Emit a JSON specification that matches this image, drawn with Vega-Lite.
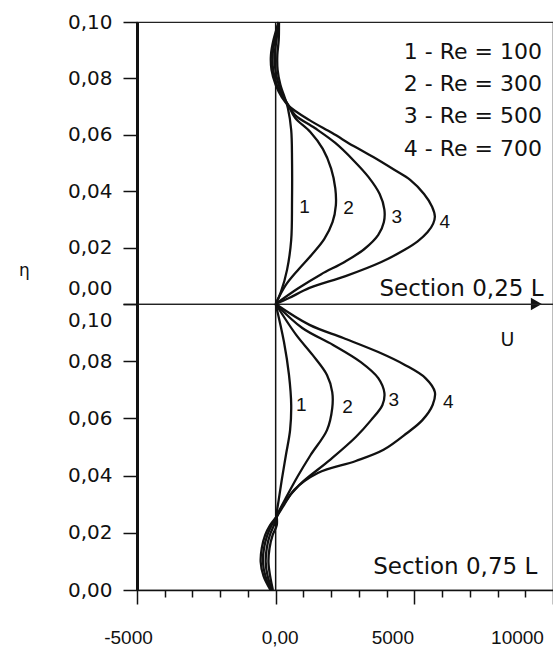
{
  "$schema": "https://vega.github.io/schema/vega-lite/v6.json",
  "autosize": {"type": "pad"},
  "padding": {"left": 18, "top": 11, "right": 0, "bottom": 5},
  "background": "white",
  "spacing": 0,
  "bounds": "flush",
  "config": {
    "font": "Liberation Sans",
    "view": {"stroke": "#222", "strokeWidth": 1.2},
    "axis": {"grid": false, "labelFont": "Liberation Sans", "labelFontSize": 19, "labelColor": "#111", "tickColor": "#111", "domainColor": "#111", "labelFlush": false},
    "text": {"font": "DejaVu Sans", "color": "#111"}
  },
  "datasets": {
    "topCurves": [
      {"curve": "1", "U": 120, "eta": 0.1}, {"curve": "1", "U": 110, "eta": 0.0936}, {"curve": "1", "U": 60, "eta": 0.0883}, {"curve": "1", "U": 70, "eta": 0.083}, {"curve": "1", "U": 170, "eta": 0.0777}, {"curve": "1", "U": 320, "eta": 0.0734}, {"curve": "1", "U": 440, "eta": 0.0695}, {"curve": "1", "U": 560, "eta": 0.0617}, {"curve": "1", "U": 590, "eta": 0.0511}, {"curve": "1", "U": 590, "eta": 0.0369}, {"curve": "1", "U": 560, "eta": 0.0227}, {"curve": "1", "U": 410, "eta": 0.0121}, {"curve": "1", "U": 190, "eta": 0.0043}, {"curve": "1", "U": 0, "eta": 0},
      {"curve": "2", "U": 100, "eta": 0.1}, {"curve": "2", "U": 30, "eta": 0.0936}, {"curve": "2", "U": -40, "eta": 0.0883}, {"curve": "2", "U": -10, "eta": 0.083}, {"curve": "2", "U": 110, "eta": 0.0777}, {"curve": "2", "U": 290, "eta": 0.0734}, {"curve": "2", "U": 480, "eta": 0.07}, {"curve": "2", "U": 700, "eta": 0.066}, {"curve": "2", "U": 1250, "eta": 0.061}, {"curve": "2", "U": 1700, "eta": 0.055}, {"curve": "2", "U": 2000, "eta": 0.048}, {"curve": "2", "U": 2150, "eta": 0.041}, {"curve": "2", "U": 2170, "eta": 0.035}, {"curve": "2", "U": 2050, "eta": 0.029}, {"curve": "2", "U": 1750, "eta": 0.023}, {"curve": "2", "U": 1300, "eta": 0.0175}, {"curve": "2", "U": 800, "eta": 0.012}, {"curve": "2", "U": 350, "eta": 0.0065}, {"curve": "2", "U": 0, "eta": 0},
      {"curve": "3", "U": 110, "eta": 0.1}, {"curve": "3", "U": -30, "eta": 0.0936}, {"curve": "3", "U": -110, "eta": 0.0883}, {"curve": "3", "U": -90, "eta": 0.083}, {"curve": "3", "U": 40, "eta": 0.0777}, {"curve": "3", "U": 250, "eta": 0.0734}, {"curve": "3", "U": 480, "eta": 0.0702}, {"curve": "3", "U": 700, "eta": 0.067}, {"curve": "3", "U": 1410, "eta": 0.0624}, {"curve": "3", "U": 2150, "eta": 0.0571}, {"curve": "3", "U": 2800, "eta": 0.051}, {"curve": "3", "U": 3350, "eta": 0.045}, {"curve": "3", "U": 3750, "eta": 0.039}, {"curve": "3", "U": 3920, "eta": 0.0335}, {"curve": "3", "U": 3900, "eta": 0.029}, {"curve": "3", "U": 3700, "eta": 0.0245}, {"curve": "3", "U": 3200, "eta": 0.0195}, {"curve": "3", "U": 2500, "eta": 0.015}, {"curve": "3", "U": 1630, "eta": 0.0105}, {"curve": "3", "U": 800, "eta": 0.0055}, {"curve": "3", "U": 0, "eta": 0},
      {"curve": "4", "U": 110, "eta": 0.1}, {"curve": "4", "U": -80, "eta": 0.0936}, {"curve": "4", "U": -170, "eta": 0.0883}, {"curve": "4", "U": -150, "eta": 0.083}, {"curve": "4", "U": 0, "eta": 0.0777}, {"curve": "4", "U": 220, "eta": 0.0734}, {"curve": "4", "U": 480, "eta": 0.0702}, {"curve": "4", "U": 1220, "eta": 0.0652}, {"curve": "4", "U": 2040, "eta": 0.0606}, {"curve": "4", "U": 2810, "eta": 0.056}, {"curve": "4", "U": 3520, "eta": 0.0521}, {"curve": "4", "U": 4290, "eta": 0.0475}, {"curve": "4", "U": 4850, "eta": 0.044}, {"curve": "4", "U": 5350, "eta": 0.039}, {"curve": "4", "U": 5640, "eta": 0.0345}, {"curve": "4", "U": 5740, "eta": 0.031}, {"curve": "4", "U": 5680, "eta": 0.0285}, {"curve": "4", "U": 5480, "eta": 0.0255}, {"curve": "4", "U": 5120, "eta": 0.0222}, {"curve": "4", "U": 4650, "eta": 0.0192}, {"curve": "4", "U": 3810, "eta": 0.0149}, {"curve": "4", "U": 2520, "eta": 0.0099}, {"curve": "4", "U": 1220, "eta": 0.0057}, {"curve": "4", "U": 480, "eta": 0.0021}, {"curve": "4", "U": 0, "eta": 0}
    ],
    "bottomCurves": [
      {"curve": "1", "U": 0, "eta": 0.1}, {"curve": "1", "U": 300, "eta": 0.0867}, {"curve": "1", "U": 480, "eta": 0.0752}, {"curve": "1", "U": 560, "eta": 0.0647}, {"curve": "1", "U": 520, "eta": 0.0559}, {"curve": "1", "U": 370, "eta": 0.0472}, {"curve": "1", "U": 220, "eta": 0.0385}, {"curve": "1", "U": 110, "eta": 0.0315}, {"curve": "1", "U": 40, "eta": 0.0269}, {"curve": "1", "U": 40, "eta": 0.0227}, {"curve": "1", "U": -110, "eta": 0.0192}, {"curve": "1", "U": -220, "eta": 0.0147}, {"curve": "1", "U": -260, "eta": 0.0098}, {"curve": "1", "U": -200, "eta": 0.0049}, {"curve": "1", "U": -100, "eta": 0},
      {"curve": "2", "U": 0, "eta": 0.1}, {"curve": "2", "U": 740, "eta": 0.0892}, {"curve": "2", "U": 1330, "eta": 0.0822}, {"curve": "2", "U": 1850, "eta": 0.0752}, {"curve": "2", "U": 2040, "eta": 0.0692}, {"curve": "2", "U": 2040, "eta": 0.0636}, {"curve": "2", "U": 1850, "eta": 0.0559}, {"curve": "2", "U": 1260, "eta": 0.0472}, {"curve": "2", "U": 780, "eta": 0.0395}, {"curve": "2", "U": 370, "eta": 0.0322}, {"curve": "2", "U": 110, "eta": 0.0273}, {"curve": "2", "U": -60, "eta": 0.0227}, {"curve": "2", "U": -210, "eta": 0.0192}, {"curve": "2", "U": -320, "eta": 0.0147}, {"curve": "2", "U": -360, "eta": 0.0098}, {"curve": "2", "U": -290, "eta": 0.0049}, {"curve": "2", "U": -130, "eta": 0},
      {"curve": "3", "U": 0, "eta": 0.1}, {"curve": "3", "U": 960, "eta": 0.0916}, {"curve": "3", "U": 2070, "eta": 0.0857}, {"curve": "3", "U": 3070, "eta": 0.0797}, {"curve": "3", "U": 3700, "eta": 0.0741}, {"curve": "3", "U": 3920, "eta": 0.0689}, {"curve": "3", "U": 3850, "eta": 0.0647}, {"curve": "3", "U": 3440, "eta": 0.0594}, {"curve": "3", "U": 2890, "eta": 0.0535}, {"curve": "3", "U": 1960, "eta": 0.0455}, {"curve": "3", "U": 850, "eta": 0.0367}, {"curve": "3", "U": 260, "eta": 0.0297}, {"curve": "3", "U": 70, "eta": 0.0262}, {"curve": "3", "U": -140, "eta": 0.0227}, {"curve": "3", "U": -300, "eta": 0.0192}, {"curve": "3", "U": -420, "eta": 0.0147}, {"curve": "3", "U": -460, "eta": 0.0098}, {"curve": "3", "U": -370, "eta": 0.0049}, {"curve": "3", "U": -160, "eta": 0},
      {"curve": "4", "U": 0, "eta": 0.1}, {"curve": "4", "U": 1220, "eta": 0.0927}, {"curve": "4", "U": 2440, "eta": 0.0881}, {"curve": "4", "U": 3700, "eta": 0.0832}, {"curve": "4", "U": 4660, "eta": 0.0787}, {"curve": "4", "U": 5400, "eta": 0.0741}, {"curve": "4", "U": 5740, "eta": 0.0692}, {"curve": "4", "U": 5660, "eta": 0.0647}, {"curve": "4", "U": 5290, "eta": 0.0594}, {"curve": "4", "U": 4740, "eta": 0.0549}, {"curve": "4", "U": 3890, "eta": 0.049}, {"curve": "4", "U": 2890, "eta": 0.0451}, {"curve": "4", "U": 1520, "eta": 0.0409}, {"curve": "4", "U": 670, "eta": 0.035}, {"curve": "4", "U": 300, "eta": 0.0297}, {"curve": "4", "U": 70, "eta": 0.0262}, {"curve": "4", "U": -200, "eta": 0.0227}, {"curve": "4", "U": -380, "eta": 0.0192}, {"curve": "4", "U": -500, "eta": 0.0147}, {"curve": "4", "U": -540, "eta": 0.0098}, {"curve": "4", "U": -440, "eta": 0.0049}, {"curve": "4", "U": -190, "eta": 0}
    ],
    "zeroLine": [{"U": 0, "eta": 0, "eta2": 0.1}],
    "topNumbers": [
      {"label": "1", "U": 1040, "eta": 0.0344}, {"label": "2", "U": 2630, "eta": 0.034}, {"label": "3", "U": 4370, "eta": 0.0309}, {"label": "4", "U": 6100, "eta": 0.029}
    ],
    "bottomNumbers": [
      {"label": "1", "U": 925, "eta": 0.0647}, {"label": "2", "U": 2590, "eta": 0.064}, {"label": "3", "U": 4260, "eta": 0.0664}, {"label": "4", "U": 6220, "eta": 0.0657}
    ],
    "legendText": [
      {"label": "1 - Re = 100", "U": 9600, "eta": 0.0895},
      {"label": "2 - Re = 300", "U": 9600, "eta": 0.078},
      {"label": "3 - Re = 500", "U": 9600, "eta": 0.0665},
      {"label": "4 - Re = 700", "U": 9600, "eta": 0.055}
    ],
    "sectionTop": [{"label": "Section 0,25 L", "U": 9660, "eta": 0.0052}],
    "arrow": [{"U": 9400, "eta": 0}],
    "bottomText": [
      {"label": "Section 0,75 L", "U": 9435, "eta": 0.0082}
    ],
    "uLabel": [{"label": "U", "U": 8360, "eta": 0.0874}]
  },
  "vconcat": [
    {
      "width": 416,
      "height": 282,
      "encoding": {
        "x": {"field": "U", "type": "quantitative", "scale": {"domain": [-5000, 10000], "nice": false, "zero": false}, "axis": null},
        "y": {"field": "eta", "type": "quantitative", "scale": {"domain": [0, 0.1], "nice": false},
          "axis": {
            "values": [0, 0.02, 0.04, 0.06, 0.08, 0.1],
            "labelExpr": "replace(format(datum.value, '.2f'), '.', ',')",
            "labelFont": "DejaVu Sans", "labelFontSize": 20,
            "tickSize": 14, "tickWidth": 1.5, "labelPadding": 11, "domainWidth": 3,
            "labelOffset": {"condition": {"test": "datum.value == 0", "value": -16}, "value": 0},
            "title": "η", "titleFont": "DejaVu Sans", "titleAngle": 0, "titleX": -113, "titleY": 248, "titleFontSize": 17, "titleFontWeight": "normal", "titleAlign": "center", "titleBaseline": "middle", "titleColor": "#111"
          }
        }
      },
      "layer": [
        {"data": {"name": "zeroLine"}, "mark": {"type": "rule", "strokeWidth": 1.5, "color": "#111"}, "encoding": {"y2": {"field": "eta2"}}},
        {"data": {"name": "topCurves"}, "mark": {"type": "line", "strokeWidth": 2.3, "color": "#111", "interpolate": "catmull-rom"},
          "encoding": {"detail": {"field": "curve"}, "order": {"field": "eta", "type": "quantitative"}}},
        {"data": {"name": "topNumbers"}, "mark": {"type": "text", "font": "Liberation Sans", "fontSize": 19, "align": "center", "baseline": "middle"}, "encoding": {"text": {"field": "label"}}},
        {"data": {"name": "legendText"}, "mark": {"type": "text", "fontSize": 22, "align": "right", "baseline": "middle"}, "encoding": {"text": {"field": "label"}}},
        {"data": {"name": "sectionTop"}, "mark": {"type": "text", "fontSize": 23, "align": "right", "baseline": "middle"}, "encoding": {"text": {"field": "label"}}},
        {"data": {"name": "arrow"}, "mark": {"type": "point", "shape": "triangle-right", "filled": true, "size": 160, "color": "#111", "opacity": 1}}
      ]
    },
    {
      "width": 416,
      "height": 286,
      "encoding": {
        "y": {"field": "eta", "type": "quantitative", "scale": {"domain": [0, 0.1], "nice": false},
          "axis": {
            "values": [0, 0.02, 0.04, 0.06, 0.08, 0.1],
            "labelExpr": "replace(format(datum.value, '.2f'), '.', ',')",
            "labelFont": "DejaVu Sans", "labelFontSize": 20,
            "tickSize": 14, "tickWidth": 1.5, "labelPadding": 11, "domainWidth": 3,
            "labelOffset": {"condition": {"test": "datum.value == 0.1", "value": 16}, "value": 0},
            "title": null
          }
        }
      },
      "resolve": {"axis": {"x": "independent"}},
      "layer": [
        {"data": {"name": "zeroLine"}, "mark": {"type": "rule", "strokeWidth": 1.5, "color": "#111"},
          "encoding": {
            "x": {"field": "U", "type": "quantitative", "scale": {"domain": [-5000, 10000], "nice": false, "zero": false},
              "axis": {"orient": "bottom", "values": [-4000, -3000, -2000, -1000, 1000, 2000, 3000, 4000, 6000, 7000, 8000, 9000], "labels": false, "domain": false, "tickSize": 7, "tickWidth": 1.5, "title": null}},
            "y2": {"field": "eta2"}
          }},
        {"data": {"name": "bottomCurves"}, "mark": {"type": "line", "strokeWidth": 2.3, "color": "#111", "interpolate": "catmull-rom"},
          "encoding": {
            "x": {"field": "U", "type": "quantitative", "scale": {"domain": [-5000, 10000], "nice": false, "zero": false},
              "axis": {"orient": "bottom", "values": [-5000, 0, 5000, 10000], "labelExpr": "datum.value == 0 ? '0,00' : (datum.value < 0 ? '-' : '') + format(abs(datum.value), 'd')", "tickSize": 14, "tickWidth": 1.5, "labelPadding": 24, "domainWidth": 1.5, "labelFlush": false, "labelOffset": {"condition": [{"test": "datum.value == -5000", "value": -9}, {"test": "datum.value == 0", "value": 4}, {"test": "datum.value == 5000", "value": -22}, {"test": "datum.value == 10000", "value": -36}], "value": 0}, "title": null}},
            "detail": {"field": "curve"}, "order": {"field": "eta", "type": "quantitative"}
          }},
        {"data": {"name": "bottomNumbers"}, "mark": {"type": "text", "font": "Liberation Sans", "fontSize": 19, "align": "center", "baseline": "middle"},
          "encoding": {"x": {"field": "U", "type": "quantitative", "axis": null}, "text": {"field": "label"}}},
        {"data": {"name": "bottomText"}, "mark": {"type": "text", "fontSize": 23, "align": "right", "baseline": "middle"},
          "encoding": {"x": {"field": "U", "type": "quantitative", "axis": null}, "text": {"field": "label"}}},
        {"data": {"name": "uLabel"}, "mark": {"type": "text", "fontSize": 19, "align": "center", "baseline": "middle"},
          "encoding": {"x": {"field": "U", "type": "quantitative", "axis": null}, "text": {"field": "label"}}}
      ]
    }
  ]
}
